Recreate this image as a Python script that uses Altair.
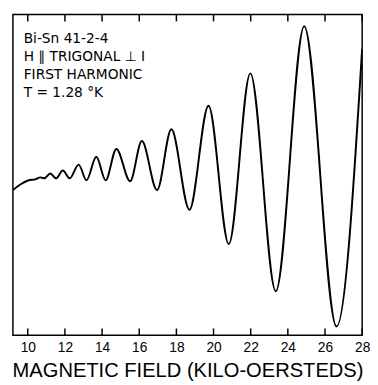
import altair as alt
import pandas as pd

# Curve: field (kOe) and signal (arbitrary units)
field = [9.20, 9.62, 10.05, 10.41, 10.68, 10.89, 11.21, 11.52, 11.89, 12.26,
         12.74, 13.16, 13.69, 14.19, 14.77, 15.51, 16.14, 16.96, 17.73, 18.70,
         19.73, 20.82, 21.98, 23.35, 24.88, 26.62, 28.0]
signal = [148, 154, 158, 159, 161, 160, 165, 160, 168, 160,
          174, 158, 182, 158, 190, 157, 198, 148, 210, 128,
          234, 93, 267, 45, 315, 9, 292]

tick_values = [10, 12, 14, 16, 18, 20, 22, 24, 26, 28]
notes = ["Bi-Sn 41-2-4", "H ∥ TRIGONAL ⊥ I", "FIRST HARMONIC", "T = 1.28 °K"]
x_title = "MAGNETIC FIELD (KILO-OERSTEDS)"

W, H = 356, 327
FONT = "Liberation Sans"
NOTE_FONT = "DejaVu Sans"
TICK_LEN = 7

curve_df = pd.DataFrame({"B": field, "S": signal})
ticks_df = pd.DataFrame({"t": tick_values})
notes_df = pd.DataFrame({"label": notes, "row": list(range(len(notes)))})

xscale = alt.Scale(domain=[9.2, 28], nice=False, zero=False)
yscale = alt.Scale(domain=[0, H], nice=False, zero=False)

curve = alt.Chart(curve_df).mark_line(
    interpolate="monotone", color="black", strokeWidth=2, clip=True
).encode(
    x=alt.X("B:Q", scale=xscale, axis=alt.Axis(values=tick_values), title=x_title),
    y=alt.Y("S:Q", scale=yscale, axis=None),
)

ticks_bottom = alt.Chart(ticks_df).mark_rule(color="black", strokeWidth=1.5).encode(
    x=alt.X("t:Q", scale=xscale, axis=None),
    y=alt.Y(datum=0, scale=yscale, axis=None),
    y2=alt.datum(TICK_LEN),
)
ticks_top = alt.Chart(ticks_df).mark_rule(color="black", strokeWidth=1.5).encode(
    x=alt.X("t:Q", scale=xscale, axis=None),
    y=alt.Y(datum=H, scale=yscale, axis=None),
    y2=alt.datum(H - TICK_LEN),
)

text = alt.Chart(notes_df).transform_calculate(
    ypix="302 - datum.row * 18.5"
).mark_text(
    align="left", baseline="middle", font=NOTE_FONT, fontSize=14, color="black"
).encode(
    x=alt.value(11),
    y=alt.Y("ypix:Q", scale=yscale, axis=None),
    text="label:N",
)

chart = alt.layer(curve, ticks_bottom, ticks_top, text).resolve_axis(
    x="independent"
).properties(
    width=W, height=H,
    padding={"left": 4, "top": 2, "right": 0, "bottom": 0},
).configure_view(stroke="black", strokeWidth=1.5).configure_axisX(
    domain=False, ticks=False, grid=False,
    labelFont=FONT, labelFontSize=14, labelColor="black",
    labelPadding=6, labelFlush=False, labelOverlap=False, labelBound=False,
    titleFont=FONT, titleFontSize=20.5, titleFontWeight="normal",
    titleColor="black", titlePadding=6,
)

chart.save("out.html", embed_options={"renderer": "svg", "actions": False})
